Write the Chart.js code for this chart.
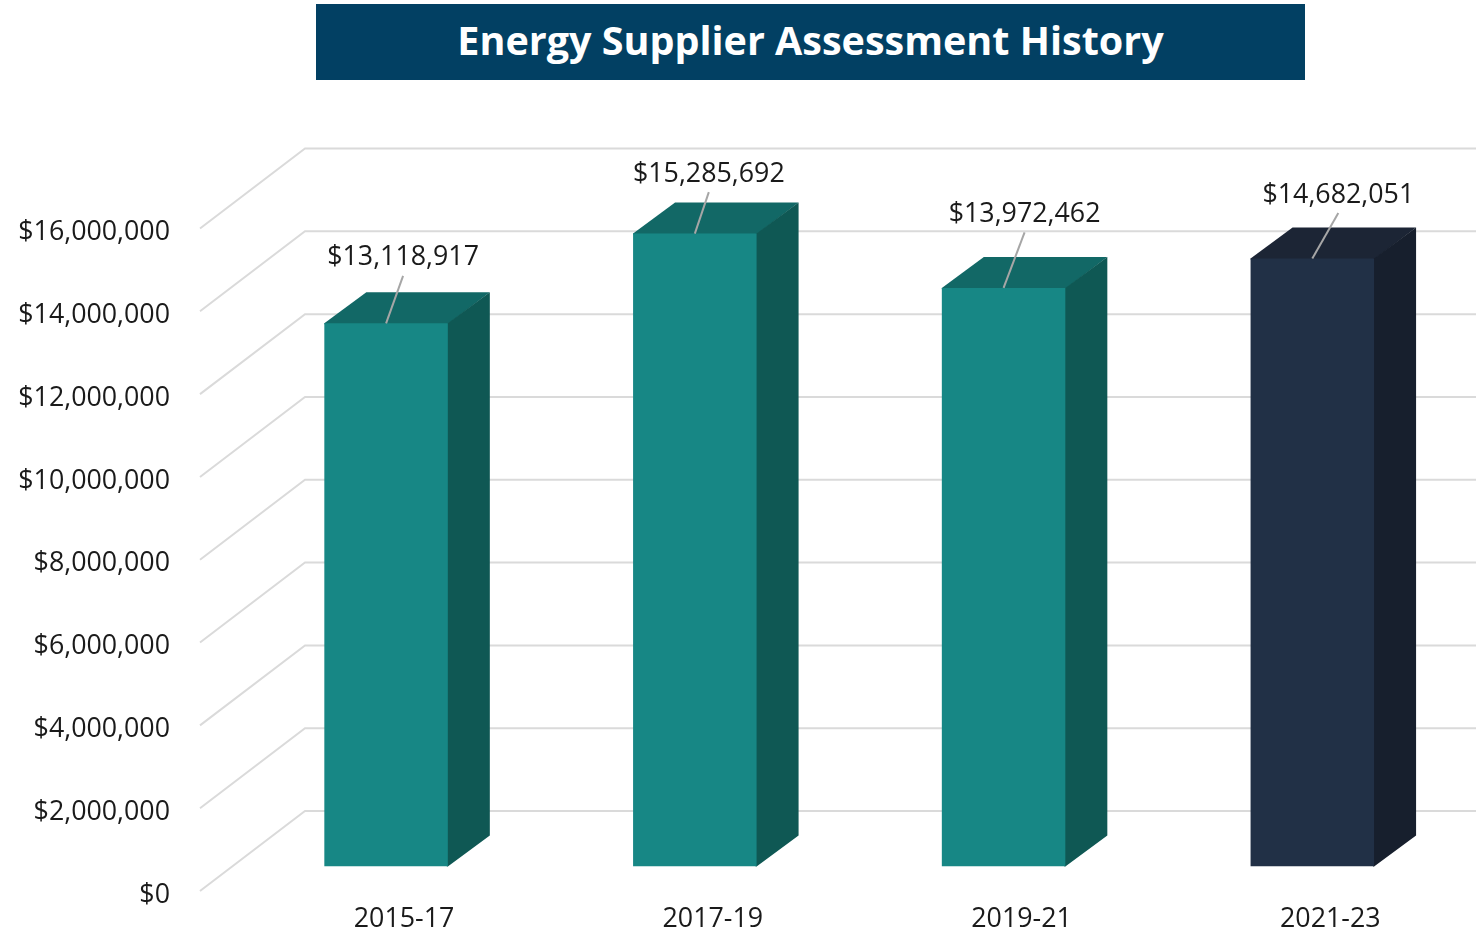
<!DOCTYPE html>
<html>
<head>
<meta charset="utf-8">
<title>Energy Supplier Assessment History</title>
<script src="https://cdn.jsdelivr.net/npm/chart.js@4"></script>
<style>
  html, body { margin: 0; padding: 0; background: #fff; }
  .wrap { position: relative; width: 1476px; height: 933px; overflow: hidden; }
  #chart { position: absolute; left: 0; top: 0; }
  .banner {
    position: absolute; left: 316px; top: 4px; width: 989px; height: 72px; padding-bottom: 4px;
    background: #024063; color: #fff; text-align: center;
    font: 700 39.5px/72px "Open Sans", sans-serif;
  }
</style>
</head>
<body>
<div class="wrap">
  <canvas id="chart" width="1476" height="933"></canvas>
  <div class="banner">Energy Supplier Assessment History</div>
</div>
<script>
const periods = ["2015-17", "2017-19", "2019-21", "2021-23"];
const assessments = [13118917, 15285692, 13972462, 14682051];
const yMax = 16000000;
const yStep = 2000000;

const frontColors = ["#178785", "#178785", "#178785", "#213046"];
const topColors = ["#126866", "#126866", "#126866", "#1c2535"];
const sideColors = ["#0f5854", "#0f5854", "#0f5854", "#171f2d"];

// where each value label sits, relative to the top middle of its bar
const labelOffsets = [[17, -65.5], [14, -59.5], [21, -73.5], [26, -63.5]];

const font = '"Open Sans", sans-serif';
const fontSize = 26.8;
const depthX = 42;
const depthY = -31;

function money(v) {
  return "$" + Number(v).toLocaleString("en-US");
}

// floor and back wall lines, sit behind the bars
const wallGrid = {
  id: "wallGrid",
  beforeDatasetsDraw(chart) {
    const ctx = chart.ctx;
    const y = chart.scales.y;
    ctx.save();
    ctx.strokeStyle = "#dadada";
    ctx.lineWidth = 2;
    y.ticks.forEach((t) => {
      const p = y.getPixelForValue(t.value);
      ctx.beginPath();
      ctx.moveTo(200, p + 24.5);
      ctx.lineTo(305, p - 55.5);
      ctx.lineTo(1476, p - 55.5);
      ctx.stroke();
    });
    ctx.restore();
  },
};

// top and side faces of each bar, tucked 1px under the front face
const barFaces = {
  id: "barFaces",
  beforeDatasetsDraw(chart) {
    const ctx = chart.ctx;
    chart.getDatasetMeta(0).data.forEach((bar, i) => {
      const l = bar.x - bar.width / 2;
      const r = bar.x + bar.width / 2;
      ctx.fillStyle = topColors[i];
      ctx.beginPath();
      ctx.moveTo(l, bar.y + 1);
      ctx.lineTo(l, bar.y);
      ctx.lineTo(l + depthX, bar.y + depthY);
      ctx.lineTo(r + depthX, bar.y + depthY);
      ctx.lineTo(r, bar.y + 1);
      ctx.fill();
      ctx.fillStyle = sideColors[i];
      ctx.beginPath();
      ctx.moveTo(r - 1, bar.y);
      ctx.lineTo(r, bar.y);
      ctx.lineTo(r + depthX, bar.y + depthY);
      ctx.lineTo(r + depthX, bar.base + depthY);
      ctx.lineTo(r, bar.base);
      ctx.lineTo(r - 1, bar.base);
      ctx.fill();
    });
  },
};

// value labels with their leader lines
const valueLabels = {
  id: "valueLabels",
  afterDatasetsDraw(chart) {
    const ctx = chart.ctx;
    ctx.save();
    ctx.font = fontSize + "px " + font;
    ctx.textAlign = "center";
    ctx.textBaseline = "middle";
    chart.getDatasetMeta(0).data.forEach((bar, i) => {
      const tx = bar.x + labelOffsets[i][0];
      const ty = bar.y + labelOffsets[i][1];
      ctx.strokeStyle = "#a6a6a6";
      ctx.lineWidth = 2;
      ctx.beginPath();
      ctx.moveTo(bar.x, bar.y);
      ctx.lineTo(tx, ty + 18);
      ctx.stroke();
      ctx.fillStyle = "#1a1a1a";
      ctx.fillText(money(assessments[i]), tx, ty);
    });
    ctx.restore();
  },
};

new Chart(document.getElementById("chart"), {
  type: "bar",
  data: {
    labels: periods,
    datasets: [
      {
        label: "Assessment",
        data: assessments,
        backgroundColor: frontColors,
        borderWidth: 0,
        barPercentage: 0.4,
        categoryPercentage: 1,
      },
    ],
  },
  plugins: [wallGrid, barFaces, valueLabels],
  options: {
    responsive: false,
    animation: false,
    layout: { padding: { top: 204, right: 9.3, bottom: 0, left: 0 } },
    plugins: {
      legend: { display: false },
      tooltip: { enabled: false },
    },
    scales: {
      x: {
        afterFit: (scale) => { scale.height = 66.5; },
        grid: { display: false, drawTicks: false },
        border: { display: false },
        ticks: {
          color: "#1a1a1a",
          font: { family: font, size: fontSize },
          padding: 36.5,
          labelOffset: 18,
          maxRotation: 0,
        },
      },
      y: {
        min: 0,
        max: yMax,
        afterFit: (scale) => { scale.width = 231.7; },
        // tick padding would also pad the bottom of the layout, so the gap comes from tickLength
        grid: { display: false, drawTicks: true, tickLength: 61.7 },
        border: { display: false },
        ticks: {
          stepSize: yStep,
          color: "#1a1a1a",
          font: { family: font, size: fontSize },
          padding: 0,
          labelOffset: 28.5,
          callback: (v) => money(v),
        },
      },
    },
  },
});
</script>
</body>
</html>
